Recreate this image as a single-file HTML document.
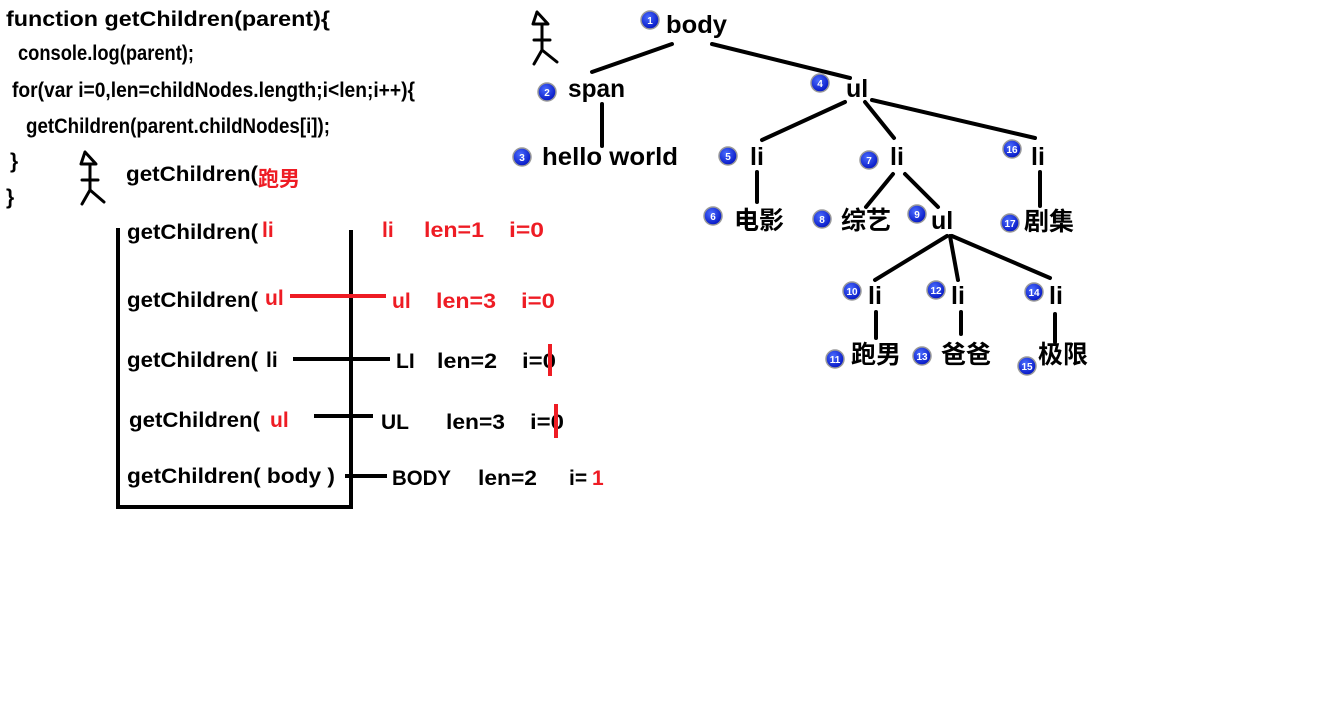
<!DOCTYPE html>
<html><head><meta charset="utf-8"><style>
html,body{margin:0;padding:0;background:#fff;}
svg{display:block;}
text{font-family:"Liberation Sans","Noto Sans CJK SC",sans-serif;font-weight:bold;}
.c{font-size:21px;fill:#000;}
.r{fill:#ee1c24;}
.t{font-size:25px;fill:#000;}
.n{font-size:10px;fill:#fff;text-anchor:middle;}
</style></head><body>
<svg width="1339" height="709" viewBox="0 0 1339 709" xmlns="http://www.w3.org/2000/svg">
<defs><radialGradient id="g" cx="40%" cy="35%" r="70%"><stop offset="0" stop-color="#4a6cff"/><stop offset="1" stop-color="#0010c0"/></radialGradient></defs>
<text class="c" x="6" y="26" textLength="324" lengthAdjust="spacingAndGlyphs">function getChildren(parent){</text>
<text class="c" x="18" y="60" textLength="176" lengthAdjust="spacingAndGlyphs">console.log(parent);</text>
<text class="c" x="12" y="97" textLength="403" lengthAdjust="spacingAndGlyphs">for(var i=0,len=childNodes.length;i&lt;len;i++){</text>
<text class="c" x="26" y="133" textLength="304" lengthAdjust="spacingAndGlyphs">getChildren(parent.childNodes[i]);</text>
<text class="c" x="10" y="168">}</text>
<text class="c" x="6" y="204">}</text>
<text class="c" x="126" y="181" textLength="132" lengthAdjust="spacingAndGlyphs">getChildren(</text>
<text class="c r" x="258" y="186" font-size="20">跑男</text>
<text class="c" x="127" y="239" textLength="131" lengthAdjust="spacingAndGlyphs">getChildren(</text>
<text class="c r" x="262" y="237">li</text>
<text class="c r" x="382" y="237">li</text>
<text class="c r" x="424" y="237" textLength="60" lengthAdjust="spacingAndGlyphs">len=1</text>
<text class="c r" x="509" y="237" textLength="35" lengthAdjust="spacingAndGlyphs">i=0</text>
<g stroke="#000" stroke-width="4" fill="none">
<line x1="118" y1="228" x2="118" y2="508"/><line x1="116" y1="507" x2="353" y2="507"/><line x1="351" y1="230" x2="351" y2="509"/>
<line x1="293" y1="359" x2="390" y2="359"/><line x1="314" y1="416" x2="373" y2="416"/><line x1="345" y1="476" x2="387" y2="476"/>
</g>
<line x1="290" y1="296" x2="386" y2="296" stroke="#ee1c24" stroke-width="4"/>
<text class="c" x="127" y="307" textLength="131" lengthAdjust="spacingAndGlyphs">getChildren(</text>
<text class="c r" x="265" y="305">ul</text>
<text class="c r" x="392" y="308">ul</text>
<text class="c r" x="436" y="308" textLength="60" lengthAdjust="spacingAndGlyphs">len=3</text>
<text class="c r" x="521" y="308" textLength="34" lengthAdjust="spacingAndGlyphs">i=0</text>
<text class="c" x="127" y="367" textLength="131" lengthAdjust="spacingAndGlyphs">getChildren(</text>
<text class="c" x="266" y="367">li</text>
<text class="c" x="396" y="368">LI</text>
<text class="c" x="437" y="368" textLength="60" lengthAdjust="spacingAndGlyphs">len=2</text>
<text class="c" x="522" y="368" textLength="34" lengthAdjust="spacingAndGlyphs">i=0</text>
<line x1="550" y1="344" x2="550" y2="376" stroke="#ee1c24" stroke-width="4"/>
<text class="c" x="129" y="427" textLength="131" lengthAdjust="spacingAndGlyphs">getChildren(</text>
<text class="c r" x="270" y="427">ul</text>
<text class="c" x="381" y="429">UL</text>
<text class="c" x="446" y="429" textLength="59" lengthAdjust="spacingAndGlyphs">len=3</text>
<text class="c" x="530" y="429" textLength="34" lengthAdjust="spacingAndGlyphs">i=0</text>
<line x1="556" y1="404" x2="556" y2="438" stroke="#ee1c24" stroke-width="4"/>
<text class="c" x="127" y="483" textLength="208" lengthAdjust="spacingAndGlyphs">getChildren(  body )</text>
<text class="c" x="392" y="485" textLength="59" lengthAdjust="spacingAndGlyphs">BODY</text>
<text class="c" x="478" y="485" textLength="59" lengthAdjust="spacingAndGlyphs">len=2</text>
<text class="c" x="569" y="485">i=</text>
<text class="c r" x="592" y="485">1</text>
<g stroke="#000" stroke-width="3" fill="none" stroke-linecap="round" stroke-linejoin="round">
<path d="M537 12 L533 24 L548 24 Z"/><path d="M542 25 L542 50 M534 40 L550 40 M542 50 L534 64 M542 50 L557 62"/>
<path d="M85 152 L81 164 L96 164 Z"/><path d="M90 165 L90 190 M82 180 L98 180 M90 190 L82 204 M90 190 L104 202"/>
</g>
<g stroke="#000" stroke-width="4" stroke-linecap="round">
<line x1="672" y1="44" x2="592" y2="72"/><line x1="712" y1="44" x2="850" y2="78"/>
<line x1="602" y1="104" x2="602" y2="146"/>
<line x1="845" y1="102" x2="762" y2="140"/><line x1="865" y1="102" x2="894" y2="138"/><line x1="872" y1="100" x2="1035" y2="138"/>
<line x1="757" y1="172" x2="757" y2="202"/>
<line x1="893" y1="174" x2="866" y2="207"/><line x1="905" y1="174" x2="938" y2="207"/>
<line x1="1040" y1="172" x2="1040" y2="206"/>
<line x1="947" y1="236" x2="875" y2="280"/><line x1="950" y1="236" x2="958" y2="280"/><line x1="952" y1="236" x2="1050" y2="278"/>
<line x1="876" y1="312" x2="876" y2="338"/><line x1="961" y1="312" x2="961" y2="334"/><line x1="1055" y1="314" x2="1055" y2="342"/>
</g>
<text class="t" x="666" y="33" textLength="61" lengthAdjust="spacingAndGlyphs">body</text>
<text class="t" x="568" y="97" textLength="57" lengthAdjust="spacingAndGlyphs">span</text>
<text class="t" x="542" y="165" textLength="136" lengthAdjust="spacingAndGlyphs">hello world</text>
<text class="t" x="846" y="97">ul</text>
<text class="t" x="750" y="165">li</text>
<text class="t" x="734" y="229">电影</text>
<text class="t" x="890" y="165">li</text>
<text class="t" x="841" y="229">综艺</text>
<text class="t" x="931" y="229">ul</text>
<text class="t" x="1031" y="165">li</text>
<text class="t" x="1024" y="230">剧集</text>
<text class="t" x="868" y="304">li</text>
<text class="t" x="851" y="363">跑男</text>
<text class="t" x="951" y="304">li</text>
<text class="t" x="941" y="363">爸爸</text>
<text class="t" x="1049" y="304">li</text>
<text class="t" x="1038" y="363">极限</text>
<g>
<g transform="translate(650,20)"><circle r="9" fill="url(#g)" stroke="#999" stroke-width="1.5"/><text class="n" y="4">1</text></g>
<g transform="translate(547,92)"><circle r="9" fill="url(#g)" stroke="#999" stroke-width="1.5"/><text class="n" y="4">2</text></g>
<g transform="translate(522,157)"><circle r="9" fill="url(#g)" stroke="#999" stroke-width="1.5"/><text class="n" y="4">3</text></g>
<g transform="translate(820,83)"><circle r="9" fill="url(#g)" stroke="#999" stroke-width="1.5"/><text class="n" y="4">4</text></g>
<g transform="translate(728,156)"><circle r="9" fill="url(#g)" stroke="#999" stroke-width="1.5"/><text class="n" y="4">5</text></g>
<g transform="translate(713,216)"><circle r="9" fill="url(#g)" stroke="#999" stroke-width="1.5"/><text class="n" y="4">6</text></g>
<g transform="translate(869,160)"><circle r="9" fill="url(#g)" stroke="#999" stroke-width="1.5"/><text class="n" y="4">7</text></g>
<g transform="translate(822,219)"><circle r="9" fill="url(#g)" stroke="#999" stroke-width="1.5"/><text class="n" y="4">8</text></g>
<g transform="translate(917,214)"><circle r="9" fill="url(#g)" stroke="#999" stroke-width="1.5"/><text class="n" y="4">9</text></g>
<g transform="translate(852,291)"><circle r="9" fill="url(#g)" stroke="#999" stroke-width="1.5"/><text class="n" y="4" font-size="9">10</text></g>
<g transform="translate(835,359)"><circle r="9" fill="url(#g)" stroke="#999" stroke-width="1.5"/><text class="n" y="4" font-size="9">11</text></g>
<g transform="translate(936,290)"><circle r="9" fill="url(#g)" stroke="#999" stroke-width="1.5"/><text class="n" y="4" font-size="9">12</text></g>
<g transform="translate(922,356)"><circle r="9" fill="url(#g)" stroke="#999" stroke-width="1.5"/><text class="n" y="4" font-size="9">13</text></g>
<g transform="translate(1034,292)"><circle r="9" fill="url(#g)" stroke="#999" stroke-width="1.5"/><text class="n" y="4" font-size="9">14</text></g>
<g transform="translate(1027,366)"><circle r="9" fill="url(#g)" stroke="#999" stroke-width="1.5"/><text class="n" y="4" font-size="9">15</text></g>
<g transform="translate(1012,149)"><circle r="9" fill="url(#g)" stroke="#999" stroke-width="1.5"/><text class="n" y="4" font-size="9">16</text></g>
<g transform="translate(1010,223)"><circle r="9" fill="url(#g)" stroke="#999" stroke-width="1.5"/><text class="n" y="4" font-size="9">17</text></g>
</g>
</svg>
</body></html>
